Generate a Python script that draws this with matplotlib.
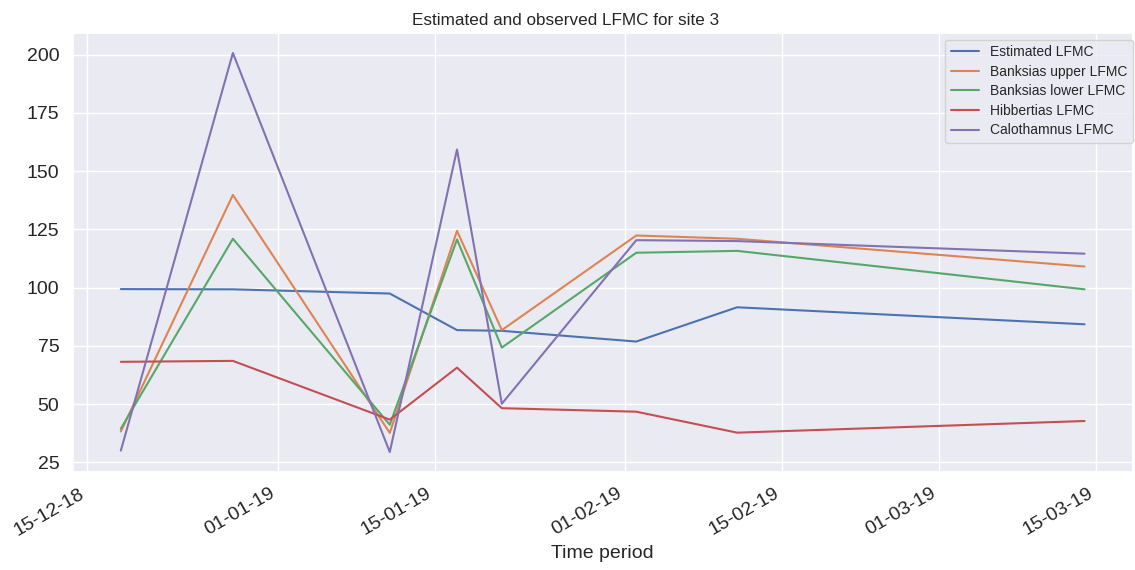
import datetime
import matplotlib
matplotlib.use('Agg')
import matplotlib.pyplot as plt
import matplotlib.dates as mdates
import seaborn as sns

# sample dates and LFMC values
dates = ['2018-12-18', '2018-12-28', '2019-01-11', '2019-01-17',
         '2019-01-21', '2019-02-02', '2019-02-11', '2019-03-14']
estimated = [99.4, 99.3, 97.5, 81.8, 81.5, 76.9, 91.6, 84.3]
banksias_upper = [38.3, 139.8, 37.7, 124.4, 81.8, 122.4, 121.0, 109.1]
banksias_lower = [39.5, 121.0, 41.2, 120.7, 74.3, 115.0, 115.8, 99.3]
hibbertias = [68.2, 68.6, 43.4, 65.7, 48.3, 46.8, 37.8, 42.8]
calothamnus = [30.1, 200.7, 29.5, 159.3, 50.2, 120.4, 120.0, 114.6]

series = [
  ('Estimated LFMC', estimated),
  ('Banksias upper LFMC', banksias_upper),
  ('Banksias lower LFMC', banksias_lower),
  ('Hibbertias LFMC', hibbertias),
  ('Calothamnus LFMC', calothamnus),
]

sns.set_theme(style='darkgrid')
plt.rcParams['font.family'] = ['Liberation Sans', 'DejaVu Sans']

x = [datetime.datetime.strptime(d, '%Y-%m-%d') for d in dates]

fig, ax = plt.subplots(figsize=(11.35, 5.7), dpi=100)
fig.subplots_adjust(left=0.064, right=0.998, top=0.942, bottom=0.172)

for name, values in series:
  ax.plot(x, values, label=name, linewidth=1.5)

ax.xaxis.set_major_locator(mdates.DayLocator(bymonthday=[1, 15]))
ax.xaxis.set_major_formatter(mdates.DateFormatter('%d-%m-%y'))
ax.tick_params(axis='both', labelsize=14)
for lbl in ax.get_xticklabels():
  lbl.set_rotation(30)
  lbl.set_horizontalalignment('right')

# title sits a bit left of the axes centre in the original
ax.set_title('Estimated and observed LFMC for site 3', fontsize=12.3, x=0.465)
ax.set_xlabel('Time period', fontsize=14)
ax.legend(loc='upper right', fontsize=10, labelspacing=0.4,
          bbox_to_anchor=(1.0, 0.985), borderaxespad=0)

plt.savefig('out.png', dpi=100)
